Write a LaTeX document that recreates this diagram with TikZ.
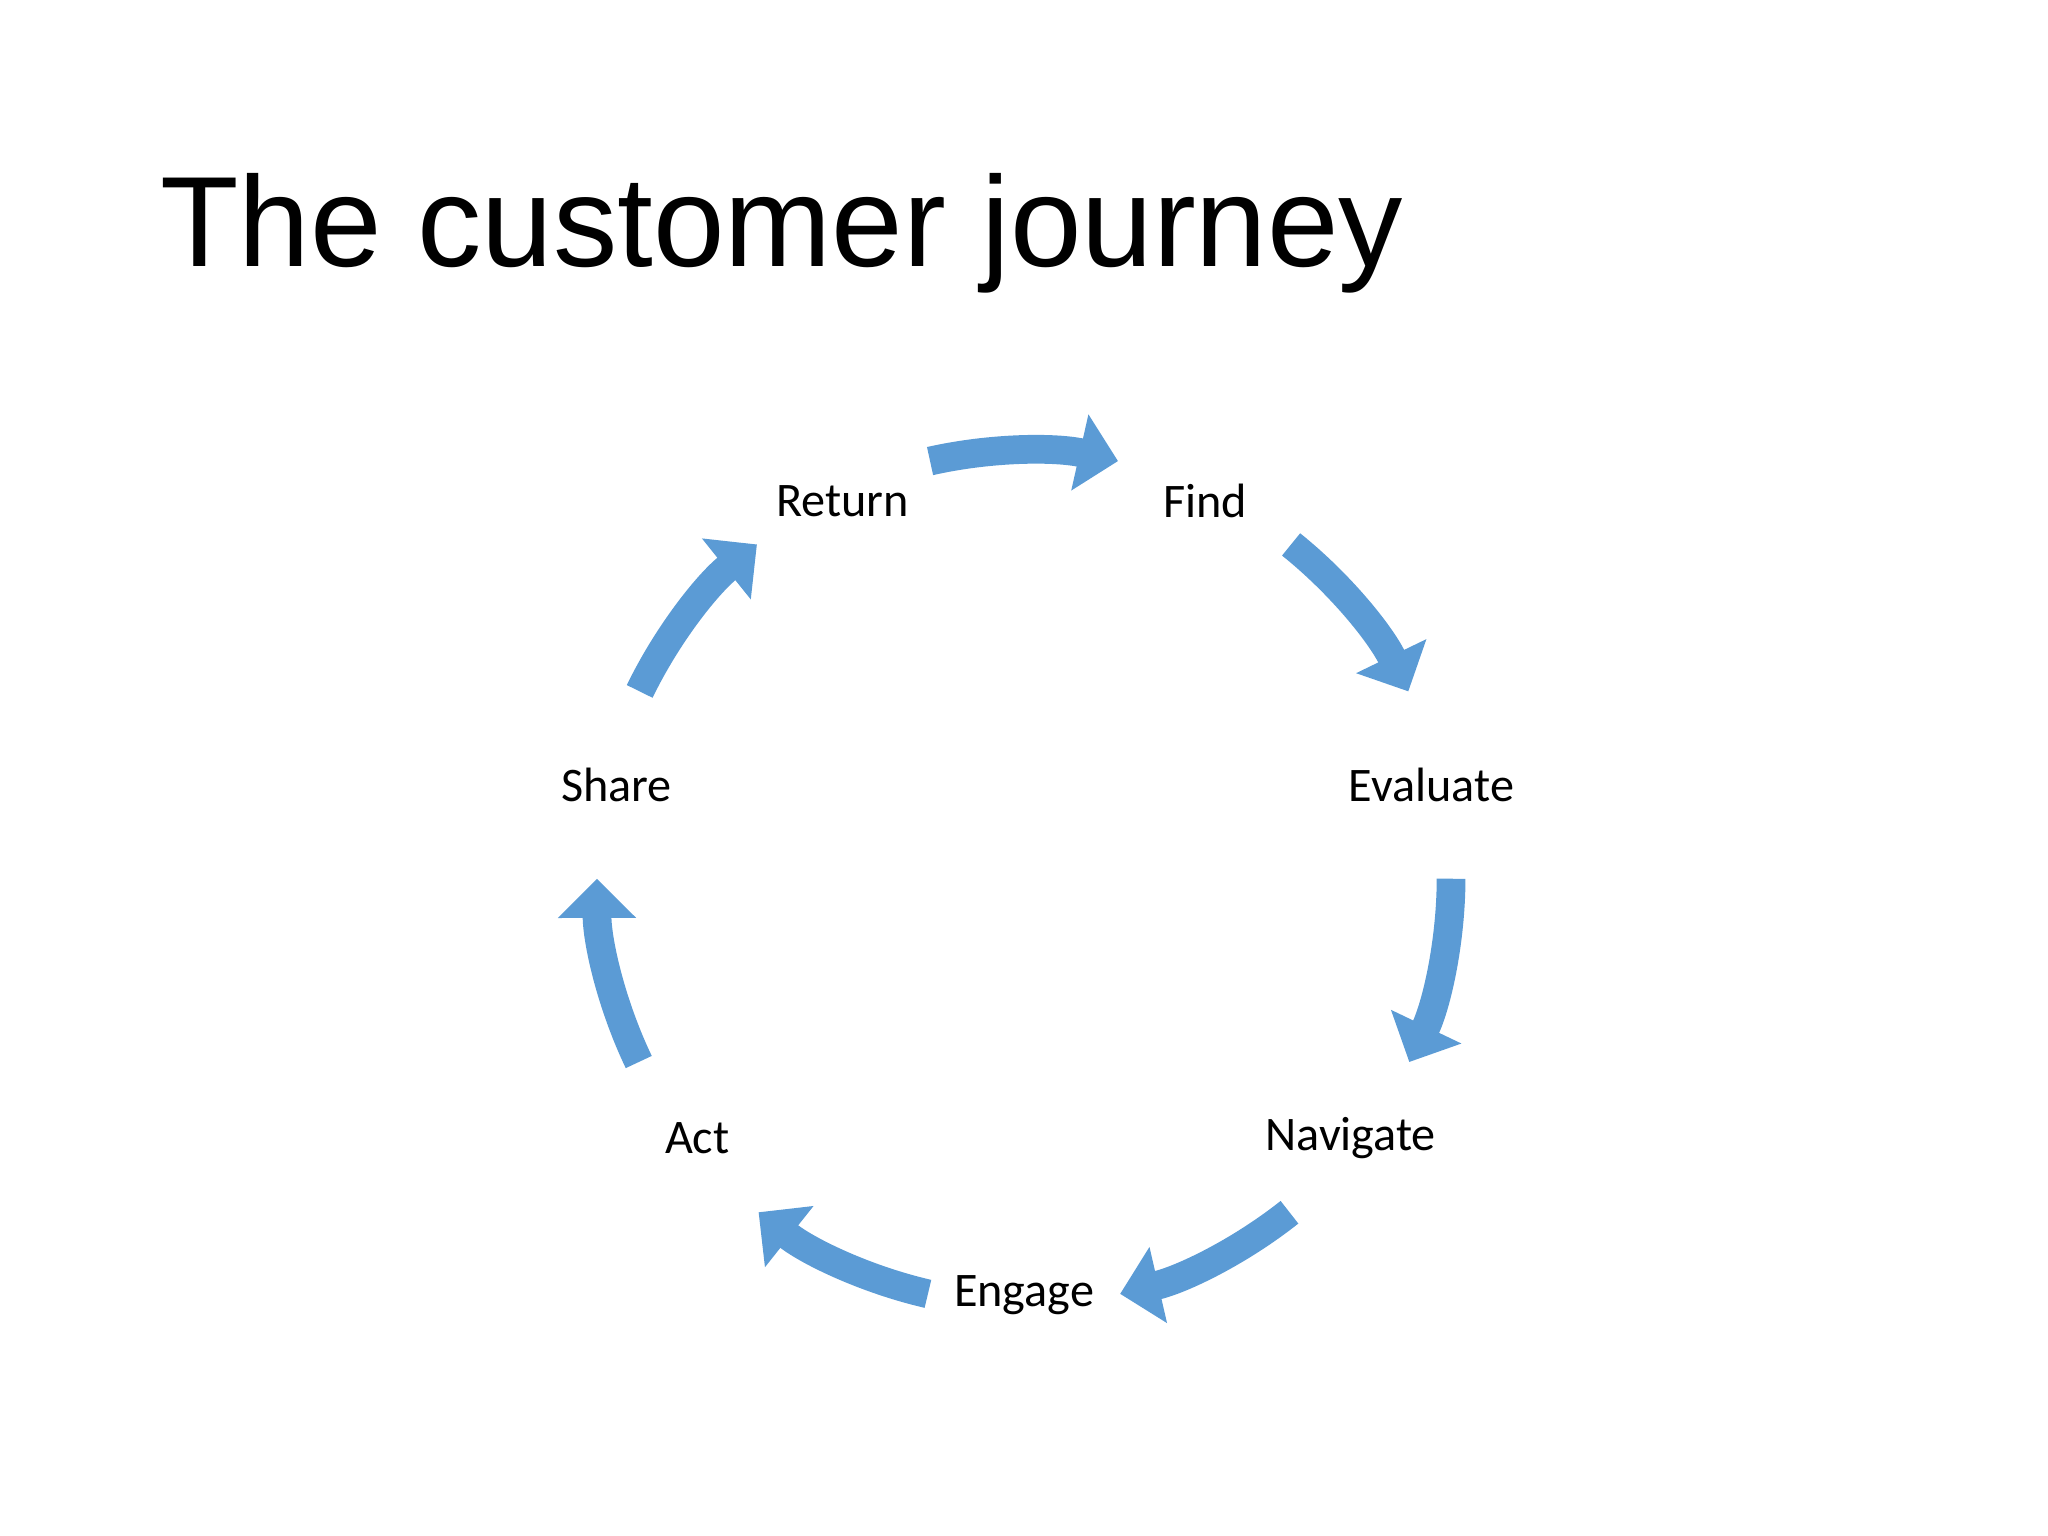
\documentclass[tikz,border=0pt]{standalone}
\usepackage{fontspec}
\setmainfont{Carlito}
\newfontfamily\titlefont{Liberation Sans}
\usetikzlibrary{arrows.meta,calc}
\definecolor{arrblue}{HTML}{5B9BD5}
\begin{document}
\begin{tikzpicture}[
  lbl/.style={font=\fontsize{10.5}{12}\selectfont, inner sep=0pt},
  arr/.style={arrblue, line width=0.22cm, -{Triangle[width=0.58cm,length=0.3cm]}}]
\useasboundingbox (0,0) rectangle (15.68,11.76);
\node[anchor=base west, inner sep=0pt, font=\titlefont\fontsize{28}{34}\selectfont] (title) at (1.22,9.72) {The customer journey};
\coordinate (C) at (7.84,5.04);
\def\R{3.2}
\def\r{3.27}
\foreach \n/\t/\a in {eng/Engage/-90, nav/Navigate/-38.57, eva/Evaluate/12.86, fin/Find/64.29, ret/Return/115.71, sha/Share/167.14, act/Act/218.57}{
  \node[lbl] (\n) at ($(C)+(\a:\R)$) {\t};
}
\foreach \s in {115.71, 64.29, 12.86, -38.57, -90, -141.43, -192.86}{
  \pgfmathsetmacro{\aa}{\s-13}
  \pgfmathsetmacro{\bb}{\s-51.43+13}
  \draw[arr] ($(C)+(\aa:\r)$) arc[start angle=\aa, end angle=\bb, radius=\r];
}
\end{tikzpicture}
\end{document}
